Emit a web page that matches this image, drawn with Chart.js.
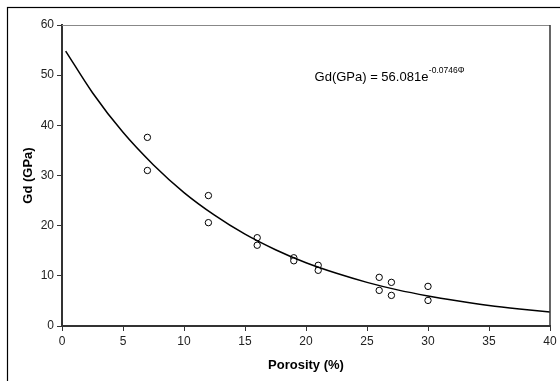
<!DOCTYPE html>
<html>
<head>
<meta charset="utf-8">
<script src="https://cdn.jsdelivr.net/npm/chart.js@4"></script>
<style>
  body { margin: 0; background: #fff; }
  #wrap { width: 560px; height: 381px; }
</style>
</head>
<body>
<div id="wrap"><canvas id="chart" width="560" height="381"></canvas></div>
<script>
// measured samples
var porosity = [7, 7, 12, 12, 16, 16, 19, 19, 21, 21, 26, 26, 27, 27, 30, 30];
var gd = [37.6, 31.0, 26.0, 20.6, 17.6, 16.1, 13.6, 13.0, 12.1, 11.1, 9.7, 7.1, 8.7, 6.1, 7.9, 5.1];

// trend line
var trendX = [0.3, 2.5, 5, 7.5, 10, 12.5, 15, 17.5, 20, 22.5, 25, 27.5, 30, 32.5, 35, 37.5, 40];
var trendY = [54.8, 46.5, 38.6, 32.1, 26.6, 22.1, 18.3, 15.2, 12.6, 10.5, 8.7, 7.2, 6.0, 5.0, 4.1, 3.4, 2.8];

var xTicks = [0, 5, 10, 15, 20, 25, 30, 35, 40];
var yTicks = [0, 10, 20, 30, 40, 50, 60];

var equationMain = 'Gd(GPa) = 56.081e';
var equationExp = '-0.0746\u03A6';

var font = 'Liberation Sans, Arial, sans-serif';

var framePlugin = {
    id: 'frame',
    beforeDraw: function (chart) {
        var c = chart.ctx;
        c.save();
        c.strokeStyle = '#000';
        c.lineWidth = 1.2;
        c.strokeRect(7.5, 7.5, 620, 420);
        c.restore();
    },
    afterDatasetsDraw: function (chart) {
        var c = chart.ctx;
        var a = chart.chartArea;
        c.save();
        c.lineWidth = 1;
        c.strokeStyle = '#888';
        c.beginPath();
        c.moveTo(a.left, a.top + 0.5);
        c.lineTo(a.right, a.top + 0.5);
        c.stroke();
        c.strokeStyle = '#333';
        c.lineWidth = 1.5;
        c.beginPath();
        c.moveTo(a.right, a.top);
        c.lineTo(a.right, a.bottom);
        c.stroke();

        // equation label
        var px = chart.scales.x.getPixelForValue(20.7);
        var py = chart.scales.y.getPixelForValue(49.6);
        c.fillStyle = '#000';
        c.textBaseline = 'middle';
        c.font = '13px ' + font;
        c.fillText(equationMain, px, py);
        var w = c.measureText(equationMain).width;
        c.font = '8.5px ' + font;
        c.fillText(equationExp, px + w + 0.5, py - 6.5);
        c.restore();
    }
};

var ctx = document.getElementById('chart').getContext('2d');
var chart = new Chart(ctx, {
    type: 'scatter',
    data: {
        datasets: [
            {
                label: 'Trend',
                data: trendX.map(function (x, i) { return { x: x, y: trendY[i] }; }),
                showLine: true,
                borderColor: '#000',
                borderWidth: 1.5,
                pointRadius: 0,
                cubicInterpolationMode: 'monotone',
                fill: false,
            },
            {
                label: 'Gd',
                data: porosity.map(function (x, i) { return { x: x, y: gd[i] }; }),
                pointStyle: 'circle',
                pointRadius: 3.2,
                pointBorderWidth: 1,
                pointBorderColor: '#000',
                pointBackgroundColor: '#fff',
            },
        ],
    },
    options: {
        responsive: false,
        animation: false,
        events: [],
        layout: { padding: { left: 0, top: 25, right: 10, bottom: 0 } },
        plugins: {
            legend: { display: false },
            tooltip: { enabled: false },
        },
        scales: {
            x: {
                type: 'linear',
                min: 0,
                max: 40,
                afterBuildTicks: function (s) { s.ticks = xTicks.map(function (v) { return { value: v }; }); },
                afterFit: function (s) { s.height = 55; },
                grid: { drawOnChartArea: false, drawTicks: true, tickLength: 5, color: '#333' },
                border: { color: '#333', width: 2 },
                ticks: { color: '#222', font: { family: font, size: 12 }, padding: 3, maxRotation: 0 },
                title: { display: true, text: 'Porosity (%)', color: '#000', font: { family: font, size: 13, weight: 'bold' }, padding: { top: 4, bottom: 8 } },
            },
            y: {
                type: 'linear',
                min: 0,
                max: 60,
                afterBuildTicks: function (s) { s.ticks = yTicks.map(function (v) { return { value: v }; }); },
                afterFit: function (s) { s.width = 62; },
                grid: { drawOnChartArea: false, drawTicks: true, tickLength: 5, color: '#333' },
                border: { color: '#333', width: 2 },
                ticks: { color: '#222', font: { family: font, size: 12 }, padding: 3 },
                title: { display: true, text: 'Gd (GPa)', color: '#000', font: { family: font, size: 13, weight: 'bold' }, padding: { top: 21, bottom: 0 } },
            },
        },
    },
    plugins: [framePlugin],
});
</script>
</body>
</html>
